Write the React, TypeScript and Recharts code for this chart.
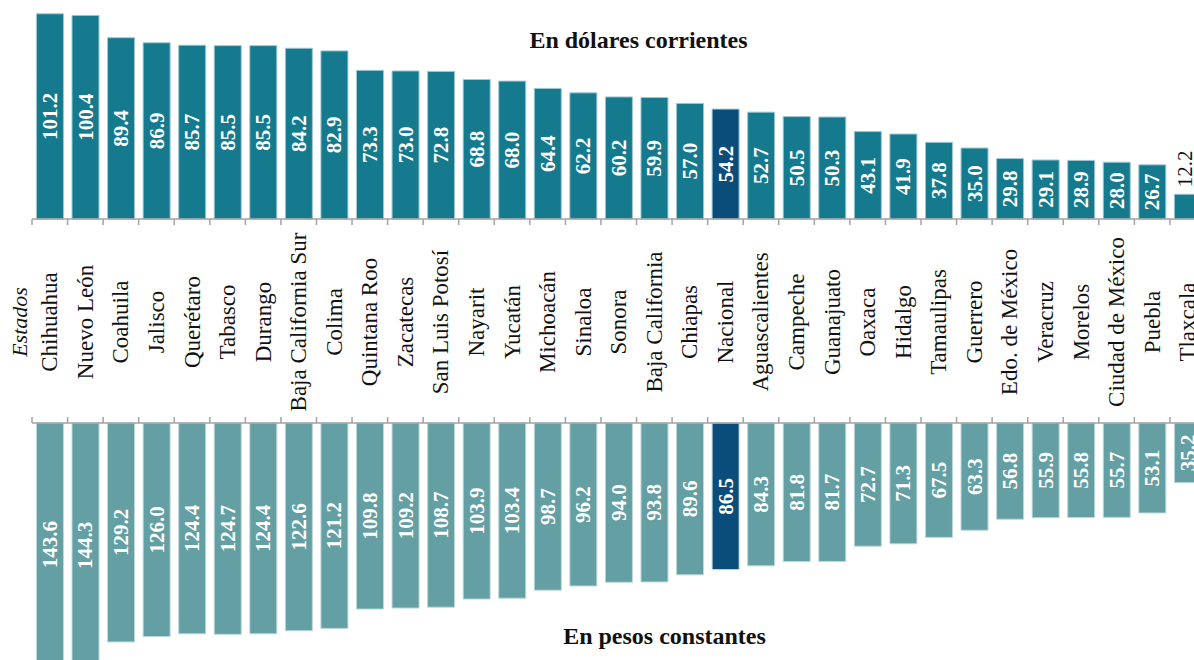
import React from "react";
import { BarChart, Bar, XAxis, YAxis, Cell, LabelList } from "recharts";

const states = [
  "Chihuahua", "Nuevo León", "Coahuila", "Jalisco", "Querétaro", "Tabasco", "Durango",
  "Baja California Sur", "Colima", "Quintana Roo", "Zacatecas", "San Luis Potosí", "Nayarit",
  "Yucatán", "Michoacán", "Sinaloa", "Sonora", "Baja California", "Chiapas", "Nacional",
  "Aguascalientes", "Campeche", "Guanajuato", "Oaxaca", "Hidalgo", "Tamaulipas", "Guerrero",
  "Edo. de México", "Veracruz", "Morelos", "Ciudad de México", "Puebla", "Tlaxcala",
];

const dollars = [
  101.2, 100.4, 89.4, 86.9, 85.7, 85.5, 85.5, 84.2, 82.9, 73.3, 73.0, 72.8, 68.8, 68.0, 64.4,
  62.2, 60.2, 59.9, 57.0, 54.2, 52.7, 50.5, 50.3, 43.1, 41.9, 37.8, 35.0, 29.8, 29.1, 28.9,
  28.0, 26.7, 12.2,
];

const pesos = [
  143.6, 144.3, 129.2, 126.0, 124.4, 124.7, 124.4, 122.6, 121.2, 109.8, 109.2, 108.7, 103.9,
  103.4, 98.7, 96.2, 94.0, 93.8, 89.6, 86.5, 84.3, 81.8, 81.7, 72.7, 71.3, 67.5, 63.3, 56.8,
  55.9, 55.8, 55.7, 53.1, 35.2,
];

const titleTop = "En dólares corrientes";
const titleBottom = "En pesos constantes";
const axisTitle = "Estados";
const highlight = "Nacional";

const data = states.map((s, i) => ({ state: s, usd: dollars[i], mxn: pesos[i] }));

const SERIF = "'Liberation Serif', 'Times New Roman', serif";
const CHART_W = 1210;
const M_LEFT = 32;
const M_RIGHT = 4.5;
const BAND = (CHART_W - M_LEFT - M_RIGHT) / states.length;

const TOP_FILL = "#157a8d";
const TOP_STROKE = "#9cc8d0";
const BOT_FILL = "#639fa3";
const BOT_STROKE = "#bcd8da";
const NAT_FILL = "#0b4d7a";
const AXIS_COLOR = "#a3a3a3";

const TopTick = (props: any) => {
  const { x, y, payload, index } = props;
  const cy = y + 103;
  const tx = x;
  const last = index === states.length - 1;
  return (
    <g>
      <line x1={x - BAND / 2} x2={x - BAND / 2} y1={y} y2={y + 6} stroke={AXIS_COLOR} strokeWidth={1.5} />
      {last && (
        <line x1={x + BAND / 2} x2={x + BAND / 2} y1={y} y2={y + 6} stroke={AXIS_COLOR} strokeWidth={1.5} />
      )}
      <text
        x={tx}
        y={cy}
        transform={`rotate(-90 ${tx} ${cy})`}
        textAnchor="middle"
        dominantBaseline="central"
        fontFamily={SERIF}
        fontSize={23}
        fill="#111"
      >
        {payload.value}
      </text>
      {index === 0 && (
        <text
          x={x - 30}
          y={cy}
          transform={`rotate(-90 ${x - 30} ${cy})`}
          textAnchor="middle"
          dominantBaseline="central"
          fontFamily={SERIF}
          fontStyle="italic"
          fontSize={22}
          fill="#111"
        >
          {axisTitle}
        </text>
      )}
    </g>
  );
};

const BottomTick = (props: any) => {
  const { x, y, index } = props;
  const last = index === states.length - 1;
  return (
    <g>
      <line x1={x - BAND / 2} x2={x - BAND / 2} y1={y - 6} y2={y} stroke={AXIS_COLOR} strokeWidth={1.5} />
      {last && (
        <line x1={x + BAND / 2} x2={x + BAND / 2} y1={y - 6} y2={y} stroke={AXIS_COLOR} strokeWidth={1.5} />
      )}
    </g>
  );
};

const ValueLabel = (props: any) => {
  const { x, y, width, height, value } = props;
  const cx = x + width / 2;
  const h = Math.abs(height);
  const txt = Number(value).toFixed(1);
  if (h < 50) {
    const by = Math.min(y, y + height) - 7;
    return (
      <text
        x={cx - 3}
        y={by}
        transform={`rotate(-90 ${cx - 3} ${by})`}
        textAnchor="start"
        dominantBaseline="central"
        fontFamily={SERIF}
        fontSize={21}
        fill="#111"
      >
        {txt}
      </text>
    );
  }
  const cy = y + height / 2;
  return (
    <text
      x={cx}
      y={cy}
      transform={`rotate(-90 ${cx} ${cy})`}
      textAnchor="middle"
      dominantBaseline="central"
      fontFamily={SERIF}
      fontWeight="bold"
      fontSize={21}
      fill="#fff"
    >
      {txt}
    </text>
  );
};

const BottomValueLabel = (props: any) => {
  const { x, y, width, height, value } = props;
  const cx = x + width / 2;
  const cy = y + height / 2;
  return (
    <text
      x={cx}
      y={cy}
      transform={`rotate(-90 ${cx} ${cy})`}
      textAnchor="middle"
      dominantBaseline="central"
      fontFamily={SERIF}
      fontWeight="bold"
      fontSize={21}
      fill="#fff"
    >
      {Number(value).toFixed(1)}
    </text>
  );
};

export default function App() {
  return (
    <div
      style={{
        position: "absolute",
        left: 0,
        top: 0,
        width: 1194,
        height: 660,
        overflow: "hidden",
        background: "#fff",
      }}
    >
      <div style={{ position: "absolute", left: 0, top: 0 }}>
        <BarChart
          width={CHART_W}
          height={423}
          data={data}
          margin={{ top: 0, right: M_RIGHT, left: M_LEFT, bottom: 0 }}
          barCategoryGap="12.5%"
        >
          <YAxis hide domain={[0, 108]} />
          <XAxis
            dataKey="state"
            height={204}
            interval={0}
            tickSize={0}
            tickMargin={0}
            tickLine={false}
            axisLine={{ stroke: AXIS_COLOR, strokeWidth: 1.5 }}
            tick={<TopTick />}
          />
          <Bar dataKey="usd" isAnimationActive={false} stroke={TOP_STROKE} strokeWidth={1}>
            {data.map((d, i) => (
              <Cell key={i} fill={d.state === highlight ? NAT_FILL : TOP_FILL} />
            ))}
            <LabelList dataKey="usd" content={<ValueLabel />} />
          </Bar>
        </BarChart>
      </div>
      <div style={{ position: "absolute", left: 0, top: 417 }}>
        <BarChart
          width={CHART_W}
          height={300}
          data={data}
          margin={{ top: 0, right: M_RIGHT, left: M_LEFT, bottom: 0 }}
          barCategoryGap="12.5%"
        >
          <YAxis hide reversed domain={[0, 173.5]} />
          <XAxis
            dataKey="state"
            orientation="top"
            height={6}
            interval={0}
            tickSize={0}
            tickMargin={0}
            tickLine={false}
            axisLine={{ stroke: AXIS_COLOR, strokeWidth: 1.5 }}
            tick={<BottomTick />}
          />
          <Bar dataKey="mxn" isAnimationActive={false} stroke={BOT_STROKE} strokeWidth={1}>
            {data.map((d, i) => (
              <Cell key={i} fill={d.state === highlight ? NAT_FILL : BOT_FILL} />
            ))}
            <LabelList dataKey="mxn" content={<BottomValueLabel />} />
          </Bar>
        </BarChart>
      </div>
      <div
        style={{
          position: "absolute",
          left: 638.5,
          top: 40,
          transform: "translate(-50%, -50%)",
          fontFamily: SERIF,
          fontWeight: "bold",
          fontSize: 24,
          lineHeight: 1,
          whiteSpace: "nowrap",
          color: "#111",
        }}
      >
        {titleTop}
      </div>
      <div
        style={{
          position: "absolute",
          left: 664.5,
          top: 636,
          transform: "translate(-50%, -50%)",
          fontFamily: SERIF,
          fontWeight: "bold",
          fontSize: 24,
          lineHeight: 1,
          whiteSpace: "nowrap",
          color: "#111",
        }}
      >
        {titleBottom}
      </div>
    </div>
  );
}
